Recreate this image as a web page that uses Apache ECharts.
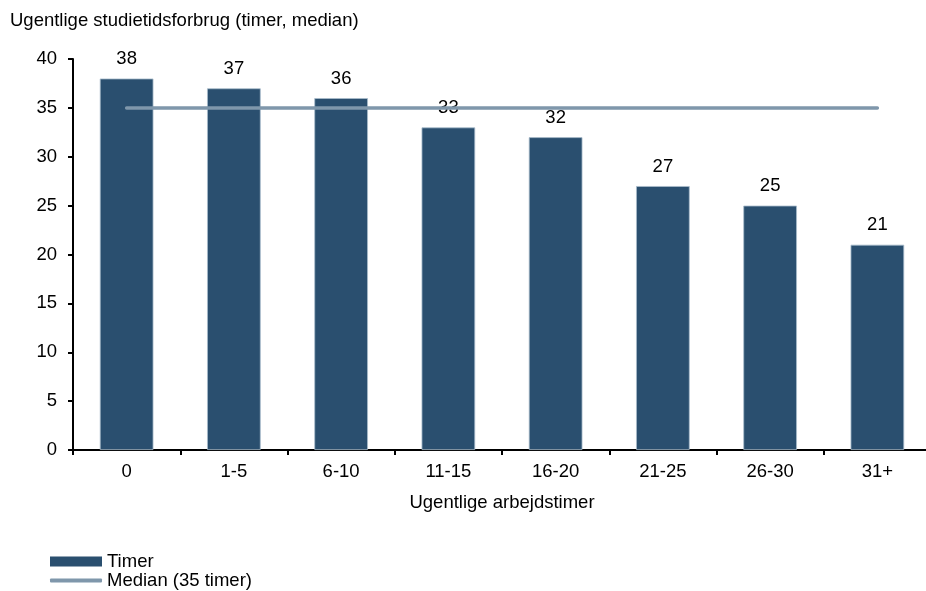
<!DOCTYPE html>
<html>
<head>
<meta charset="utf-8">
<script src="https://cdn.jsdelivr.net/npm/echarts@6/dist/echarts.min.js"></script>
<style>
html,body{margin:0;padding:0;background:#fff;}
#c{width:926px;height:591px;}
</style>
</head>
<body>
<div id="c"></div>
<script>
var categories = ['0', '1-5', '6-10', '11-15', '16-20', '21-25', '26-30', '31+'];
var timerValues = [38, 37, 36, 33, 32, 27, 25, 21];
var medianValues = [35, 35, 35, 35, 35, 35, 35, 35];
var yTicks = [0, 5, 10, 15, 20, 25, 30, 35, 40];

var FONT = '"Liberation Sans", Arial, sans-serif';
var FS = 18.5;
var chart = echarts.init(document.getElementById('c'), null, {renderer: 'canvas'});
chart.setOption({
  animation: false,
  backgroundColor: '#ffffff',
  textStyle: {fontFamily: FONT, color: '#000'},
  title: {
    text: 'Ugentlige studietidsforbrug (timer, median)',
    left: 5, top: 6,
    textStyle: {fontFamily: FONT, fontSize: FS, fontWeight: 'normal', color: '#000'}
  },
  grid: {left: 73, width: 858, top: 59, height: 391, containLabel: false, outerBoundsMode: 'none'},
  legend: [
    {
      left: 50, top: 552, padding: 0,
      itemWidth: 52, itemHeight: 10,
      textStyle: {fontFamily: FONT, fontSize: FS, color: '#000'},
      data: [{name: 'Timer', icon: 'rect', itemStyle: {borderWidth: 0}}]
    },
    {
      left: 50, top: 571, padding: 0,
      itemWidth: 52, itemHeight: 4,
      textStyle: {fontFamily: FONT, fontSize: FS, color: '#000'},
      data: [{name: 'Median (35 timer)', icon: 'roundRect'}]
    }
  ],
  xAxis: {
    type: 'category',
    data: categories,
    name: 'Ugentlige arbejdstimer',
    nameLocation: 'middle',
    nameGap: 43,
    nameTextStyle: {fontFamily: FONT, fontSize: FS, color: '#000'},
    axisLine: {lineStyle: {color: '#000', width: 2}},
    axisTick: {show: true, length: 5, alignWithLabel: false, lineStyle: {color: '#000', width: 2}},
    axisLabel: {fontFamily: FONT, fontSize: FS, color: '#000', margin: 12},
    splitLine: {show: false}
  },
  yAxis: {
    type: 'value',
    min: yTicks[0], max: yTicks[yTicks.length - 1], interval: 5,
    axisLine: {show: true, lineStyle: {color: '#000', width: 2}},
    axisTick: {show: true, length: 5, lineStyle: {color: '#000', width: 2}},
    axisLabel: {fontFamily: FONT, fontSize: FS, color: '#000', margin: 16},
    splitLine: {show: false}
  },
  series: [
    {
      name: 'Timer',
      type: 'bar',
      data: timerValues,
      barWidth: '50%',
      itemStyle: {color: '#2A4F6F', borderColor: '#A9BCCC', borderWidth: 0.8},
      label: {
        show: true, position: 'top', distance: 10,
        fontFamily: FONT, fontSize: FS, color: '#000'
      },
      z: 2
    },
    {
      name: 'Median (35 timer)',
      type: 'line',
      data: medianValues,
      symbol: 'none',
      showSymbol: false,
      lineStyle: {color: '#7F97AB', width: 3.5, cap: 'round'},
      itemStyle: {color: '#7F97AB'},
      z: 3
    }
  ]
});
</script>
</body>
</html>
